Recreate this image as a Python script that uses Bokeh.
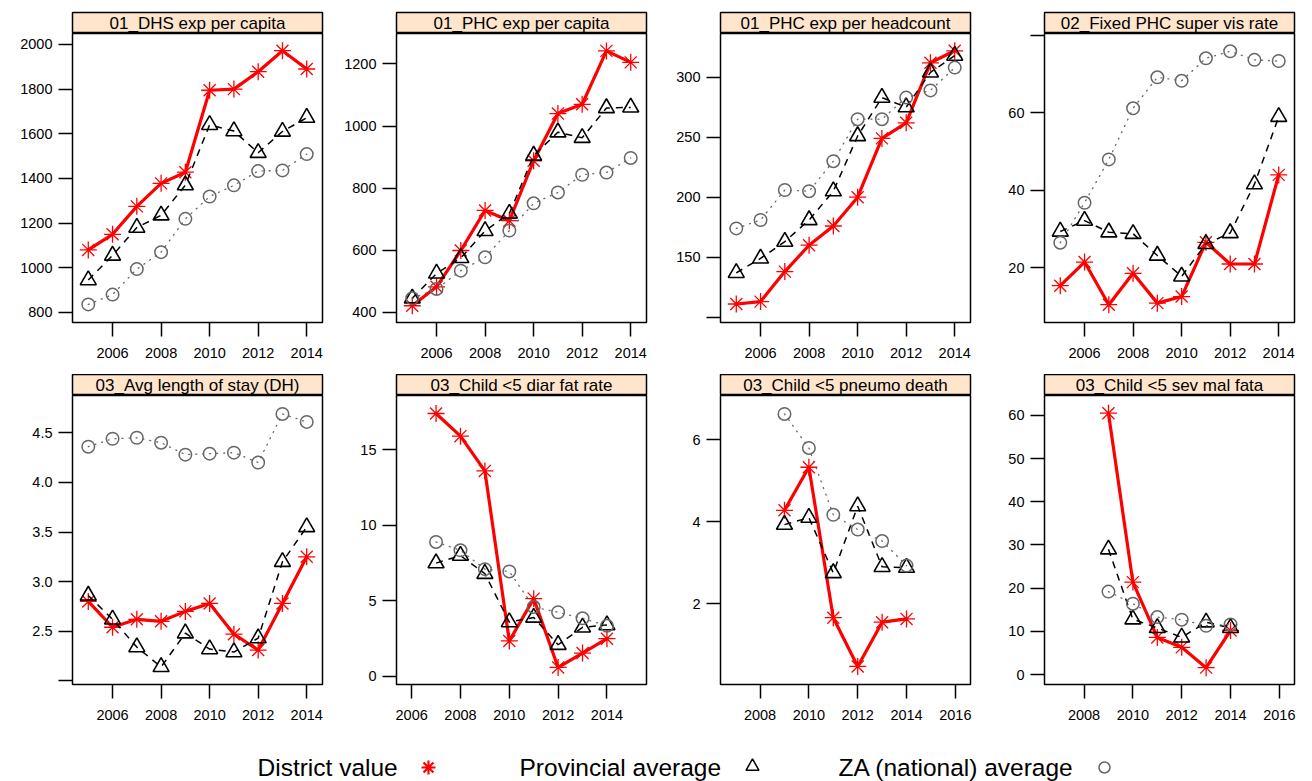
from bokeh.plotting import figure
from bokeh.models import Range1d, FixedTicker, Label
from bokeh.layouts import row, column
from bokeh.embed import file_html
from bokeh.resources import INLINE

FONT = "Liberation Sans"

# ---------------- data ----------------
titles = ["01_DHS exp per capita", "01_PHC exp per capita", "01_PHC exp per headcount",
          "02_Fixed PHC super vis rate", "03_Avg length of stay (DH)", "03_Child <5 diar fat rate",
          "03_Child <5 pneumo death", "03_Child <5 sev mal fata"]

years_05_14 = [2005, 2006, 2007, 2008, 2009, 2010, 2011, 2012, 2013, 2014]
years_07_14 = [2007, 2008, 2009, 2010, 2011, 2012, 2013, 2014]
years_09_14 = [2009, 2010, 2011, 2012, 2013, 2014]

district_1 = [1080, 1150, 1275, 1378, 1428, 1795, 1800, 1878, 1972, 1890]
province_1 = [945, 1055, 1180, 1235, 1370, 1640, 1612, 1515, 1610, 1672]
national_1 = [836, 880, 994, 1070, 1219, 1319, 1369, 1433, 1436, 1509]

district_2 = [421, 482, 599, 728, 695, 888, 1040, 1070, 1242, 1205]
province_2 = [445, 525, 575, 662, 718, 905, 980, 962, 1058, 1060]
national_2 = [445, 475, 534, 577, 663, 751, 786, 843, 850, 897]

district_3 = [111, 113, 138, 160, 176, 200, 249, 262, 312, 322]
province_3 = [137, 149, 163, 181, 205, 251, 283, 275, 304, 318]
national_3 = [174, 181, 206, 205, 230, 265, 265, 283, 289, 308]

district_4 = [15.4, 21.5, 10.5, 18.6, 10.9, 12.6, 26.6, 21.0, 21.0, 44.0]
province_4 = [29.4, 32.2, 29.2, 28.8, 23.2, 17.8, 26.2, 29.0, 41.6, 59.0]
national_4 = [26.5, 36.8, 48.0, 61.2, 69.2, 68.3, 74.1, 75.9, 73.7, 73.4]

district_5 = [2.80, 2.54, 2.62, 2.60, 2.70, 2.78, 2.47, 2.31, 2.78, 3.25]
province_5 = [2.86, 2.62, 2.34, 2.14, 2.48, 2.32, 2.29, 2.43, 3.20, 3.55]
national_5 = [4.36, 4.44, 4.45, 4.40, 4.28, 4.29, 4.30, 4.20, 4.69, 4.61]

district_6 = [17.4, 15.9, 13.6, 2.35, 5.15, 0.6, 1.55, 2.5]
province_6 = [7.5, 8.0, 6.8, 3.6, 3.9, 2.1, 3.25, 3.4]
national_6 = [8.9, 8.35, 7.1, 6.95, 4.6, 4.25, 3.85, 3.35]

district_7 = [4.28, 5.33, 1.66, 0.47, 1.55, 1.63]
province_7 = [3.93, 4.10, 2.75, 4.38, 2.90, 2.88]
national_7 = [6.63, 5.80, 4.17, 3.81, 3.53, 2.93]

district_8 = [60.5, 21.4, 8.6, 6.3, 1.6, 10.2]
province_8 = [29.0, 12.8, 10.8, 8.6, 12.1, 10.8]
national_8 = [19.2, 16.4, 13.3, 12.7, 11.3, 11.6]

x_ticks_a = [2006, 2008, 2010, 2012, 2014]
x_ticks_b = [2008, 2010, 2012, 2014, 2016]

y_ticks = [
    [800, 1000, 1200, 1400, 1600, 1800, 2000],
    [400, 600, 800, 1000, 1200],
    [100, 150, 200, 250, 300],
    [20, 40, 60, 80],
    [2.0, 2.5, 3.0, 3.5, 4.0, 4.5],
    [0, 5, 10, 15],
    [2, 4, 6],
    [0, 10, 20, 30, 40, 50, 60],
]
y_tick_labels = [
    ["800", "1000", "1200", "1400", "1600", "1800", "2000"],
    ["400", "600", "800", "1000", "1200"],
    ["", "150", "200", "250", "300"],
    ["20", "40", "60", ""],
    ["", "2.5", "3.0", "3.5", "4.0", "4.5"],
    ["0", "5", "10", "15"],
    ["2", "4", "6"],
    ["0", "10", "20", "30", "40", "50", "60"],
]

legend_labels = ["District value", "Provincial average", "ZA (national) average"]

# ---------------- panel setup ----------------
panels = [
    (years_05_14, district_1, province_1, national_1, (2004.35, 2014.65), (755, 2049), x_ticks_a),
    (years_05_14, district_2, province_2, national_2, (2004.35, 2014.65), (367, 1298), x_ticks_a),
    (years_05_14, district_3, province_3, national_3, (2004.35, 2014.65), (95.6, 336.4), x_ticks_a),
    (years_05_14, district_4, province_4, national_4, (2004.35, 2014.65), (5.9, 80.5), x_ticks_a),
    (years_05_14, district_5, province_5, national_5, (2004.35, 2014.65), (1.963, 4.876), x_ticks_a),
    (years_07_14, district_6, province_6, national_6, (2005.38, 2015.62), (-0.53, 18.59), x_ticks_a),
    (years_09_14, district_7, province_7, national_7, (2006.38, 2016.62), (0.03, 7.08), x_ticks_b),
    (years_09_14, district_8, province_8, national_8, (2006.38, 2016.62), (-2.3, 64.6), x_ticks_b),
]

RED = "#FF0000"
GREY = "#666666"
STRIP = "#FFE5CC"
FRAME_W = 250
FRAME_H = 289


def make_cell(k):
    years, dist, prov, nat, xlim, ylim, xt = panels[k]
    col = k % 4
    r = k // 4
    left = 72 if col == 0 else 64
    right = 10 if col < 3 else 2
    w = left + FRAME_W + right
    top_pad = 12 if r == 0 else 0

    strip = figure(width=w, height=21 + top_pad, x_range=Range1d(0, 1), y_range=Range1d(0, 1),
                   toolbar_location=None, output_backend="svg",
                   x_axis_location=None, y_axis_location=None,
                   min_border_left=left, min_border_right=right,
                   min_border_top=top_pad, min_border_bottom=0)
    strip.grid.visible = False
    strip.background_fill_color = STRIP
    strip.border_fill_color = "white"
    strip.outline_line_color = "black"
    strip.outline_line_width = 1.5
    strip.add_layout(Label(x=0.5, y=0.5, text=titles[k], text_align="center",
                           text_baseline="middle", text_font=FONT,
                           text_font_size="17px", text_color="black"))

    p = figure(width=w, height=FRAME_H + 52, x_range=Range1d(*xlim), y_range=Range1d(*ylim),
               toolbar_location=None, output_backend="svg",
               min_border_left=left, min_border_right=right,
               min_border_top=0, min_border_bottom=52)
    p.grid.visible = False
    p.outline_line_color = "black"
    p.outline_line_width = 1.5
    p.background_fill_color = "white"
    p.border_fill_color = "white"

    p.xaxis.ticker = FixedTicker(ticks=xt)
    p.yaxis.ticker = FixedTicker(ticks=y_ticks[k])
    p.yaxis.major_label_overrides = {t: lab for t, lab in zip(y_ticks[k], y_tick_labels[k])}
    for ax in (p.xaxis[0], p.yaxis[0]):
        ax.axis_line_color = None
        ax.major_tick_line_color = "black"
        ax.major_tick_line_width = 1.5
        ax.major_tick_in = 0
        ax.major_tick_out = 14
        ax.minor_tick_line_color = None
        ax.major_label_text_font = FONT
        ax.major_label_text_font_size = "14.5px"
        ax.major_label_text_color = "black"
    p.xaxis.major_label_standoff = 11
    p.yaxis.major_label_standoff = 6

    p.line(years, dist, line_color=RED, line_width=3.2)
    p.scatter(years, dist, marker="asterisk", size=17, line_color=RED, line_width=1.3)
    p.line(years, prov, line_color="black", line_width=1.5, line_dash="7 6")
    p.scatter(years, prov, marker="triangle", size=16, line_color="black",
              fill_color=None, line_width=1.6)
    p.line(years, nat, line_color=GREY, line_width=1.3, line_dash="1 6", line_cap="round")
    p.scatter(years, nat, marker="circle", size=12.5, line_color=GREY,
              fill_color=None, line_width=1.5)
    return column(strip, p, spacing=0)


rows = [row(*[make_cell(4 * r + c) for c in range(4)], spacing=0) for r in range(2)]

# ---------------- legend ----------------
LW = 1296
leg = figure(width=LW, height=45, x_range=Range1d(0, LW), y_range=Range1d(0, 45),
             toolbar_location=None, output_backend="svg",
             x_axis_location=None, y_axis_location=None, min_border=0)
leg.grid.visible = False
leg.outline_line_color = None
leg.border_fill_color = "white"
text_x = [257, 519, 838]
mark_x = [428, 752, 1104]
for lab, tx in zip(legend_labels, text_x):
    leg.add_layout(Label(x=tx, y=14, text=lab, text_align="left", text_baseline="middle",
                         text_font=FONT, text_font_size="24.5px", text_color="black"))
leg.scatter([mark_x[0]], [14], marker="asterisk", size=14, line_color=RED, line_width=2.2)
leg.scatter([mark_x[1]], [15], marker="triangle", size=13, line_color="black",
            fill_color=None, line_width=1.5)
leg.scatter([mark_x[2]], [14], marker="circle", size=11, line_color=GREY,
            fill_color=None, line_width=1.5)

layout = column(rows[0], rows[1], leg, spacing=0)

open("out.html", "w").write(file_html(layout, INLINE))
